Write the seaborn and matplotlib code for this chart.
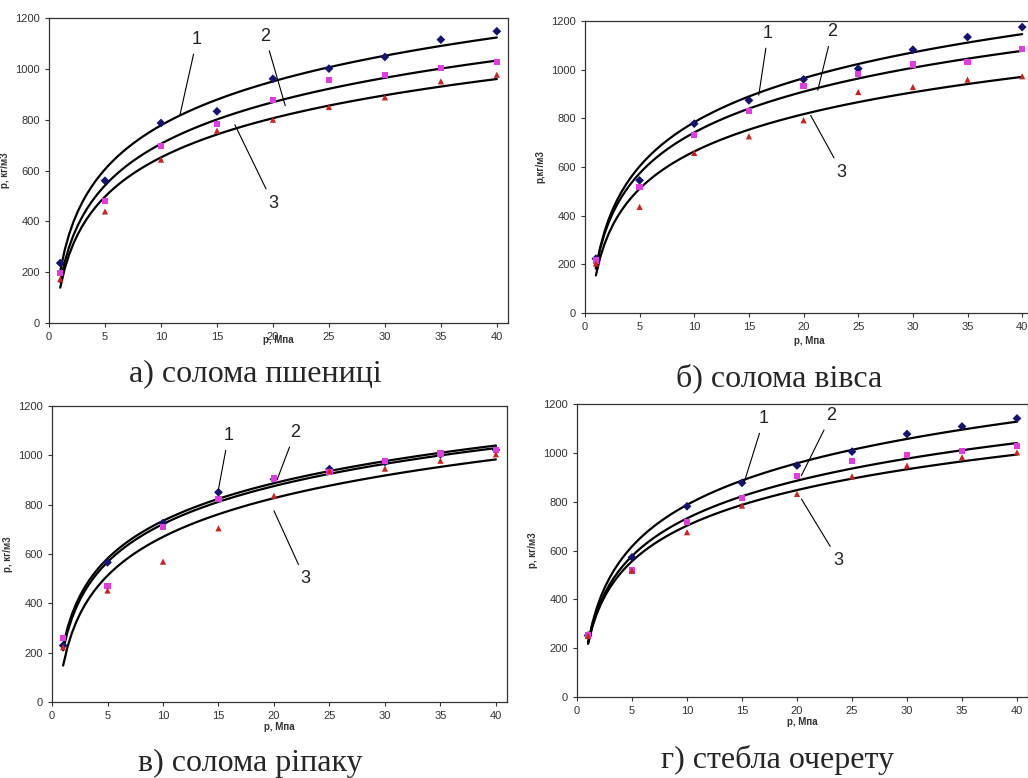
import numpy as np
import pandas as pd
import seaborn as sns
import matplotlib.pyplot as plt

# =========================
# Дані
# =========================
tysk = [1, 5, 10, 15, 20, 25, 30, 35, 40]

# а) солома пшениці
a_1 = [236, 560, 787, 833, 961, 1001, 1047, 1115, 1148]
a_2 = [197, 479, 698, 784, 876, 957, 977, 1003, 1027]
a_3 = [173, 439, 643, 757, 800, 850, 888, 951, 977]

# б) солома вівса
b_1 = [223, 545, 778, 874, 960, 1004, 1082, 1134, 1175]
b_2 = [216, 518, 730, 829, 932, 981, 1021, 1032, 1084]
b_3 = [203, 436, 658, 726, 792, 908, 929, 959, 973]

# в) солома ріпаку
c_1 = [229, 566, 725, 850, 903, 944, 973, 1004, 1022]
c_2 = [259, 469, 708, 822, 906, 933, 978, 1007, 1021]
c_3 = [222, 452, 569, 704, 836, 937, 946, 978, 1004]

# г) стебла очерету
d_1 = [252, 572, 781, 877, 948, 1005, 1077, 1108, 1141]
d_2 = [252, 518, 716, 814, 904, 968, 991, 1009, 1027]
d_3 = [250, 518, 675, 784, 832, 904, 948, 982, 1002]

captions = ["а) солома пшениці", "б) солома вівса", "в) солома ріпаку", "г) стебла очерету"]
ylabels = ["р, кг/м3", "р,кг/м3", "р, кг/м3", "р, кг/м3"]
xlabel = "р, Мпа"

# =========================
# Розкладка
# =========================
panels = [
    dict(data=(a_1, a_2, a_3), rect=[0.0477, 0.5848, 0.4465, 0.392], cap=(0.248, 0.519), xpad=-5,
         notes=[("1", (13.2, 1115), (11.7, 820)), ("2", (19.3, 1128), (21.1, 855)), ("3", (20.0, 472), (16.6, 780))]),
    dict(data=(b_1, b_2, b_3), rect=[0.569, 0.5977, 0.436, 0.3753], cap=(0.758, 0.514), xpad=3,
         notes=[("1", (16.75, 1148), (15.9, 895)), ("2", (22.6, 1155), (21.3, 915)), ("3", (23.5, 579), (20.65, 812))]),
    dict(data=(c_1, c_2, c_3), rect=[0.0506, 0.0977, 0.4426, 0.3805], cap=(0.243, 0.019), xpad=1,
         notes=[("1", (15.9, 1079), (15.0, 863)), ("2", (21.9, 1092), (20.3, 903)), ("3", (22.8, 499), (20.0, 775))]),
    dict(data=(d_1, d_2, d_3), rect=[0.5613, 0.1041, 0.4387, 0.3766], cap=(0.756, 0.023), xpad=1,
         notes=[("1", (17.0, 1139), (15.2, 880)), ("2", (23.1, 1152), (20.4, 907)), ("3", (23.8, 559), (20.4, 811))]),
]

sns.set_style("white")
plt.rcParams["font.family"] = ["Liberation Sans", "DejaVu Sans"]

fig = plt.figure(figsize=(10.28, 7.78), dpi=100)

palette = {"1": "#14146e", "2": "#e23be2", "3": "#cc2222"}
markers = {"1": "D", "2": "s", "3": "^"}

for i, p in enumerate(panels):
    ax = fig.add_axes(p["rect"])
    s1, s2, s3 = p["data"]
    df = pd.DataFrame({
        "x": tysk * 3,
        "y": s1 + s2 + s3,
        "ser": ["1"] * 9 + ["2"] * 9 + ["3"] * 9,
    })
    # логарифмічні лінії тренду
    for ser in ["1", "2", "3"]:
        sub = df[df["ser"] == ser]
        sns.regplot(data=sub, x="x", y="y", logx=True, ci=None, scatter=False,
                    color="black", line_kws={"lw": 1.6}, ax=ax)
    sns.scatterplot(data=df, x="x", y="y", hue="ser", style="ser", palette=palette,
                    markers=markers, s=20, edgecolor="none", legend=False, ax=ax, zorder=3)

    ax.set_xlim(0, 41)
    ax.set_ylim(0, 1200)
    ax.set_xticks(range(0, 45, 5))
    ax.set_yticks(range(0, 1400, 200))
    ax.tick_params(axis="both", labelsize=8, colors="#333333", length=3, direction="out",
                   bottom=True, left=True, width=0.8)
    for sp in ax.spines.values():
        sp.set_color("#333333")
        sp.set_linewidth(0.9)
    ax.set_xlabel(xlabel, fontsize=7, fontweight="bold", color="#333333", labelpad=p["xpad"])
    ax.set_ylabel(ylabels[i], fontsize=7, fontweight="bold", color="#333333", labelpad=4)

    for lab, txt_pos, tip in p["notes"]:
        ax.annotate(lab, xy=tip, xytext=txt_pos, fontsize=13, ha="center", va="center",
                    color="#222222",
                    arrowprops=dict(arrowstyle="-", lw=0.8, color="black", shrinkA=2, shrinkB=0))

    fig.text(p["cap"][0], p["cap"][1], captions[i], ha="center", va="center",
             fontsize=23, family=["Liberation Serif", "DejaVu Serif"])

fig.savefig("out.png", dpi=100)
